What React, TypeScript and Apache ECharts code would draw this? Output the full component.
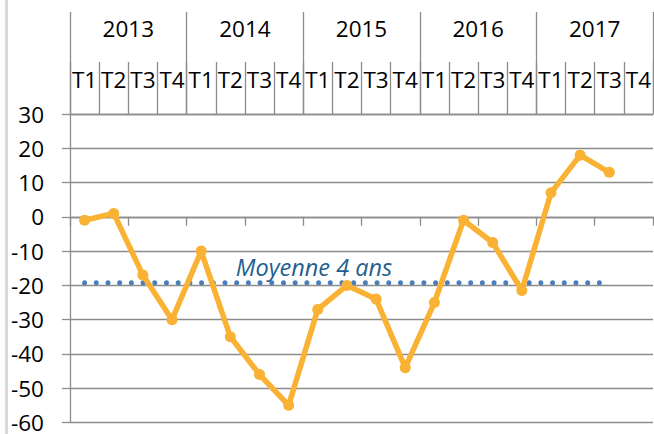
import React, { useEffect, useRef } from "react";
import * as echarts from "echarts";

const years = ["2013", "2014", "2015", "2016", "2017"];
const quarterNames = ["T1", "T2", "T3", "T4"];
const quarters = years.flatMap((y) => quarterNames.map((q) => `${y} ${q}`));
const quarterLabels = years.flatMap(() => quarterNames);
const values: (number | null)[] = [
  -1, 1, -17, -30,
  -10, -35, -46, -55,
  -27, -20, -24, -44,
  -25, -1, -7.5, -21.5,
  7, 18, 13, null,
];
const averageValue = -19.2;
const averageSpan = 19; // number of quarters covered by the average line
const averageLabel = "Moyenne 4 ans";
const yMin = -60;
const yMax = 30;
const yStep = 10;

const FONT = "Open Sans";
const GRID = "#8c8c8c";

export default function App() {
  const ref = useRef<HTMLDivElement>(null);
  useEffect(() => {
    if (!ref.current) return;
    const chart = echarts.init(ref.current, undefined, { renderer: "svg" });
    const avgData = quarters.map((_, i) => (i < averageSpan ? averageValue : null));
    chart.setOption({
      animation: false,
      backgroundColor: "#ffffff",
      grid: { left: 70, top: 114, width: 586, height: 314 },
      xAxis: [
        {
          type: "category",
          data: quarters,
          position: "bottom",
          axisLine: { onZero: true, lineStyle: { color: GRID, width: 1.3 } },
          axisTick: { show: true, length: 9, lineStyle: { color: GRID, width: 1.3 } },
          axisLabel: { show: false },
          splitLine: { show: false },
        },
        {
          type: "category",
          data: quarterLabels,
          position: "top",
          axisLine: { show: true, lineStyle: { color: GRID, width: 1.3 } },
          axisTick: { show: true, length: 52, lineStyle: { color: GRID, width: 1.3 } },
          axisLabel: {
            interval: 0,
            margin: 23,
            color: "#000",
            fontFamily: FONT,
            fontSize: 22.5,
          },
        },
        {
          type: "category",
          data: years,
          position: "top",
          axisLine: { show: false },
          axisTick: { show: true, length: 102, lineStyle: { color: GRID, width: 1.3 } },
          axisLabel: {
            interval: 0,
            margin: 74,
            color: "#000",
            fontFamily: FONT,
            fontSize: 22.5,
          },
        },
      ],
      yAxis: {
        type: "value",
        min: yMin,
        max: yMax,
        interval: yStep,
        axisLine: { show: true, lineStyle: { color: GRID, width: 1.3 } },
        axisTick: { show: true, length: 8, lineStyle: { color: GRID, width: 1.3 } },
        axisLabel: { margin: 26, color: "#000", fontFamily: FONT, fontSize: 22.5 },
        splitLine: { show: true, lineStyle: { color: GRID, width: 1.3 } },
      },
      series: [
        {
          type: "line",
          name: averageLabel,
          data: avgData,
          xAxisIndex: 0,
          showSymbol: false,
          symbol: "none",
          lineStyle: { color: "#4a7ebb", width: 5, type: [0, 11.7], cap: "round" },
          z: 2,
        },
        {
          type: "line",
          data: values,
          xAxisIndex: 0,
          symbol: "circle",
          symbolSize: 11,
          itemStyle: { color: "#f9b233" },
          lineStyle: { color: "#f9b233", width: 5.5 },
          z: 3,
        },
      ],
      graphic: [
        { type: "rect", shape: { x: 5, y: 0, width: 3, height: 434 }, style: { fill: "#d9d9d9" } },
        {
          type: "text",
          x: 314,
          y: 267,
          style: {
            text: averageLabel,
            fill: "#1f5f8f",
            font: `italic 23.5px "${FONT}"`,
            align: "center",
            verticalAlign: "middle",
          },
        },
      ],
    });
    return () => chart.dispose();
  }, []);
  return (
    <div
      ref={ref}
      style={{ position: "fixed", left: 0, top: 0, width: 654, height: 434 }}
    />
  );
}
